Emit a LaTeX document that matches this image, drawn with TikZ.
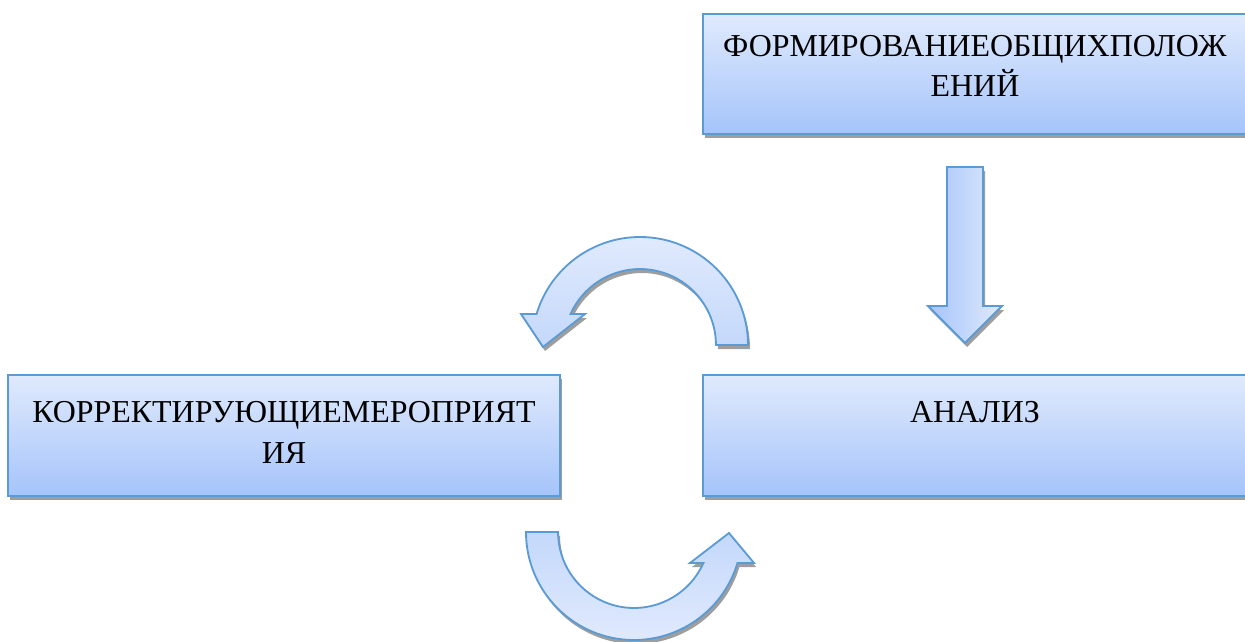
\documentclass[tikz,border=0pt]{standalone}
\usepackage{fontspec}
\setmainfont{Liberation Serif}
\usepackage{tikz}
\usetikzlibrary{shadows}
\definecolor{edgeColor}{HTML}{5B9BD5}
\definecolor{fillLight}{HTML}{E0EAFD}
\definecolor{fillDark}{HTML}{A5C4FA}
\definecolor{fillMid}{HTML}{C4D8FB}
\definecolor{shadowColor}{HTML}{9E9E9E}

\begin{document}
\begin{tikzpicture}[x=0.025cm, y=0.025cm]

          \tikzstyle{shadowed} = [drop shadow={shadow xshift=0.05cm, shadow yshift=-0.1cm, fill=shadowColor, opacity=1}];
          \tikzstyle{blockNode} = [draw=edgeColor, line width=1.4pt, top color=fillLight, bottom color=fillDark, shadowed, inner sep=0pt];
          \tikzstyle{blockText} = [align=center, inner sep=0pt, font=\fontsize{22.7}{29}\selectfont];
          \tikzstyle{downArrow} = [draw=edgeColor, line width=1.3pt, left color=fillDark, right color=fillLight, shadowed, line join=miter];
          \tikzstyle{curvArrowUp} = [draw=edgeColor, line width=1.3pt, top color=fillLight, bottom color=fillMid, shadowed, line join=miter];
          \tikzstyle{curvArrowDown} = [draw=edgeColor, line width=1.3pt, top color=fillMid, bottom color=fillLight, shadowed, line join=miter];

          \useasboundingbox (0,0) rectangle (1245,641);

          \node[blockNode, minimum width=13.6cm, minimum height=3cm] (formir) at (975,567) {};
          \node[blockNode, minimum width=13.8cm, minimum height=3.025cm] (correct) at (284,205.5) {};
          \node[blockNode, minimum width=13.6cm, minimum height=3.025cm] (analiz) at (975,205.5) {};

          \node[blockText] (formirText) at ([yshift=0.2cm]formir.center) {ФОРМИРОВАНИЕОБЩИХПОЛОЖ\\ЕНИЙ};
          \node[blockText] (correctText) at ([yshift=0.08cm]correct.center) {КОРРЕКТИРУЮЩИЕМЕРОПРИЯТ\\ИЯ};
          \node[blockText] (analizText) at ([yshift=0.08cm]analiz.center) {АНАЛИЗ\\\phantom{А}};

          \draw[downArrow] (947,474) -- (983,474) -- (983,335) -- (1002,335) -- (965,298) -- (928,335) -- (947,335) -- cycle;

          \draw[curvArrowUp] (748,296) arc[start angle=0, end angle=163.3, radius=108]
            -- (521,327) -- (543,294) -- (585,327) -- (570.6,327)
            arc[start angle=155.9, end angle=0, radius=76] -- cycle;

          \draw[curvArrowDown] (526,109) arc[start angle=180, end angle=343.3, radius=108]
            -- (754,78) -- (729,108) -- (690,78) -- (703.4,78)
            arc[start angle=335.9, end angle=180, radius=76] -- cycle;
        \end{tikzpicture}
\end{document}
